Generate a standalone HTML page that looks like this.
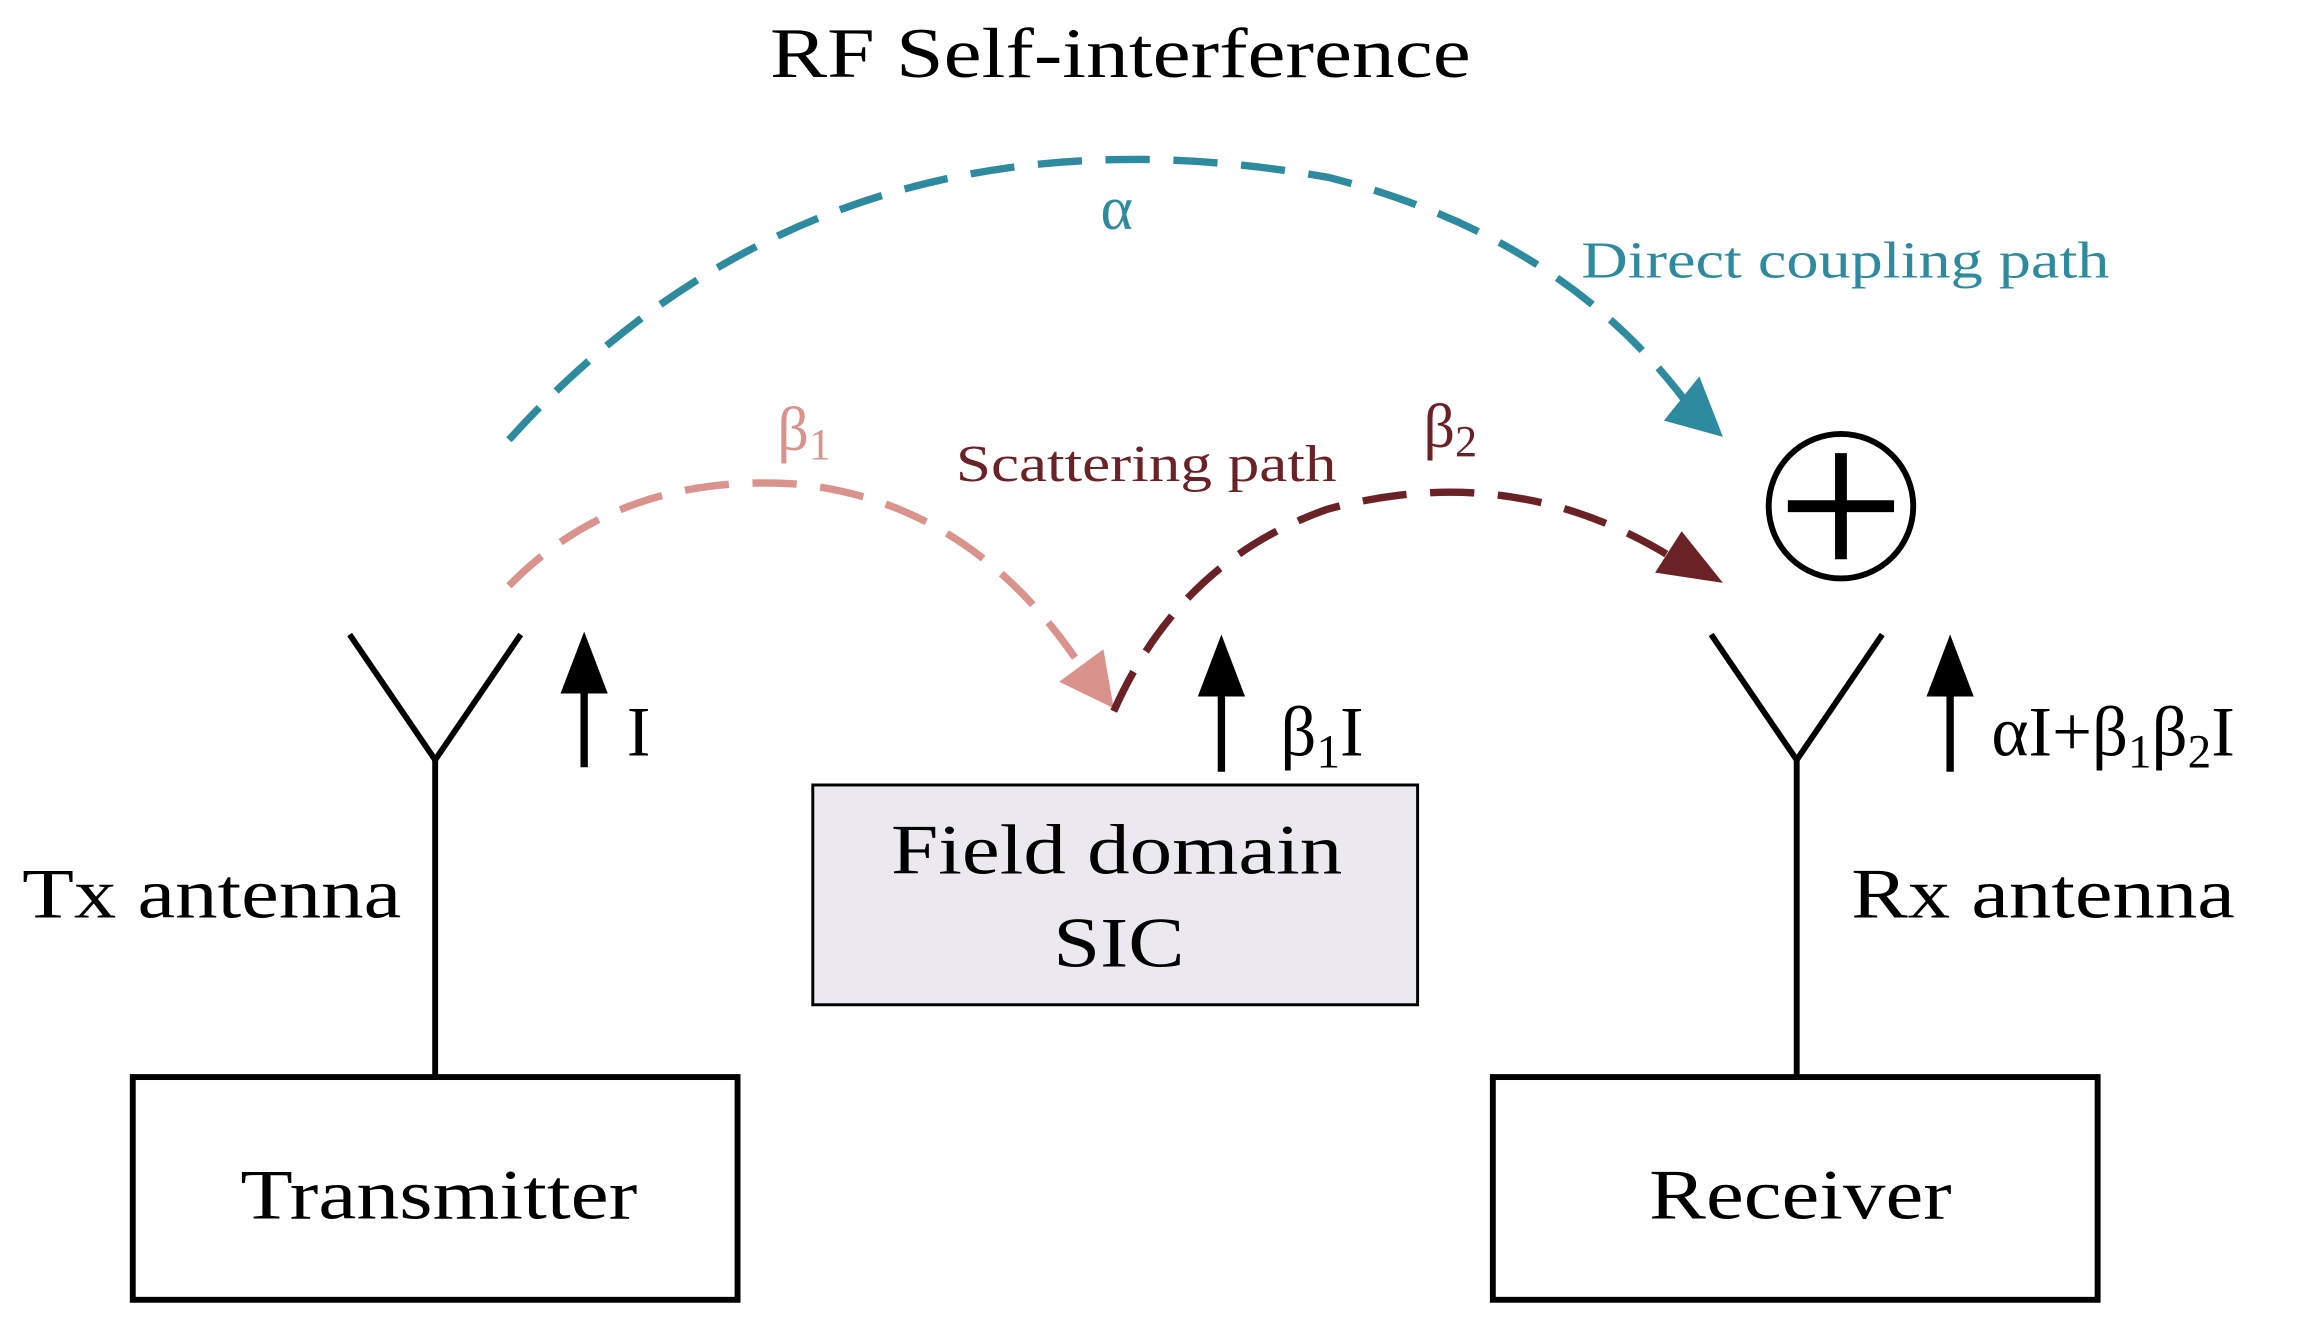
<!DOCTYPE html>
<html><head><meta charset="utf-8"><style>html,body{margin:0;padding:0;background:#fff}svg{display:block}</style></head>
<body>
<svg width="2313" height="1331" viewBox="0 0 1568 902" xmlns="http://www.w3.org/2000/svg" font-family="'Liberation Serif', serif">
<rect width="1568" height="902" fill="#fff"/>
<text x="522" y="52" font-size="48" textLength="475" lengthAdjust="spacingAndGlyphs">RF Self-interference</text>
<!-- blue arc -->
<path d="M345,298 Q560,60 900,120 Q1060,160 1145,275" fill="none" stroke="#2e8a9e" stroke-width="5" stroke-dasharray="30,16"/>
<polygon points="1168,296 1128,285 1152,255" fill="#2e8a9e"/>
<text x="757" y="155" font-size="42" fill="#2e8a9e" text-anchor="middle">α</text>
<text x="1072" y="188" font-size="35" fill="#2e8a9e" textLength="358" lengthAdjust="spacingAndGlyphs">Direct coupling path</text>
<!-- pink arc -->
<path d="M345,397 Q420,320 540,328 Q660,340 735,455" fill="none" stroke="#d9928c" stroke-width="5" stroke-dasharray="30,16"/>
<polygon points="755,480 718,462 748,440" fill="#d9928c"/>
<text x="527" y="305" font-size="42" fill="#d9928c">β<tspan font-size="30" dy="6">1</tspan></text>
<text x="648" y="326" font-size="35" fill="#6b2226" textLength="258" lengthAdjust="spacingAndGlyphs">Scattering path</text>
<!-- dark red arc -->
<path d="M755,482 Q800,380 900,345 Q1030,310 1140,382" fill="none" stroke="#6b2226" stroke-width="5" stroke-dasharray="30,16"/>
<polygon points="1168,395 1122,388 1140,360" fill="#6b2226"/>
<text x="965" y="303" font-size="42" fill="#6b2226">β<tspan font-size="30" dy="6">2</tspan></text>
<!-- circle plus -->
<circle cx="1248" cy="343" r="49" fill="none" stroke="#000" stroke-width="4"/>
<line x1="1212" y1="343" x2="1284" y2="343" stroke="#000" stroke-width="8"/>
<line x1="1248" y1="307" x2="1248" y2="379" stroke="#000" stroke-width="8"/>
<!-- Tx antenna -->
<polyline points="237,430 295,515 353,430" fill="none" stroke="#000" stroke-width="4"/>
<line x1="295" y1="515" x2="295" y2="730" stroke="#000" stroke-width="4"/>
<line x1="396" y1="520" x2="396" y2="460" stroke="#000" stroke-width="5"/>
<polygon points="380,470 396,428 412,470" fill="#000"/>
<text x="425" y="512" font-size="48">I</text>
<text x="15" y="622" font-size="48" textLength="257" lengthAdjust="spacingAndGlyphs">Tx antenna</text>
<!-- Field domain -->
<rect x="551" y="532" width="410" height="149" fill="#ebe8ef" stroke="#000" stroke-width="2"/>
<text x="604" y="592" font-size="48" textLength="306" lengthAdjust="spacingAndGlyphs">Field domain</text>
<text x="714" y="655" font-size="48" textLength="89" lengthAdjust="spacingAndGlyphs">SIC</text>
<line x1="828" y1="523" x2="828" y2="462" stroke="#000" stroke-width="5"/>
<polygon points="812,472 828,430 844,472" fill="#000"/>
<text x="868" y="512" font-size="48">β<tspan font-size="32" dy="8">1</tspan><tspan dy="-8">I</tspan></text>
<!-- Rx antenna -->
<polyline points="1160,430 1218,515 1276,430" fill="none" stroke="#000" stroke-width="4"/>
<line x1="1218" y1="515" x2="1218" y2="730" stroke="#000" stroke-width="4"/>
<line x1="1322" y1="523" x2="1322" y2="462" stroke="#000" stroke-width="5"/>
<polygon points="1306,472 1322,430 1338,472" fill="#000"/>
<text x="1350" y="512" font-size="48">αI+β<tspan font-size="32" dy="8">1</tspan><tspan dy="-8">β</tspan><tspan font-size="32" dy="8">2</tspan><tspan dy="-8">I</tspan></text>
<text x="1255" y="622" font-size="48" textLength="260" lengthAdjust="spacingAndGlyphs">Rx antenna</text>
<!-- boxes -->
<rect x="90" y="730" width="410" height="151" fill="#fff" stroke="#000" stroke-width="4"/>
<text x="163" y="826" font-size="48" textLength="269" lengthAdjust="spacingAndGlyphs">Transmitter</text>
<rect x="1012" y="730" width="410" height="151" fill="#fff" stroke="#000" stroke-width="4"/>
<text x="1118" y="826" font-size="48" textLength="205" lengthAdjust="spacingAndGlyphs">Receiver</text>
</svg>
</body></html>
